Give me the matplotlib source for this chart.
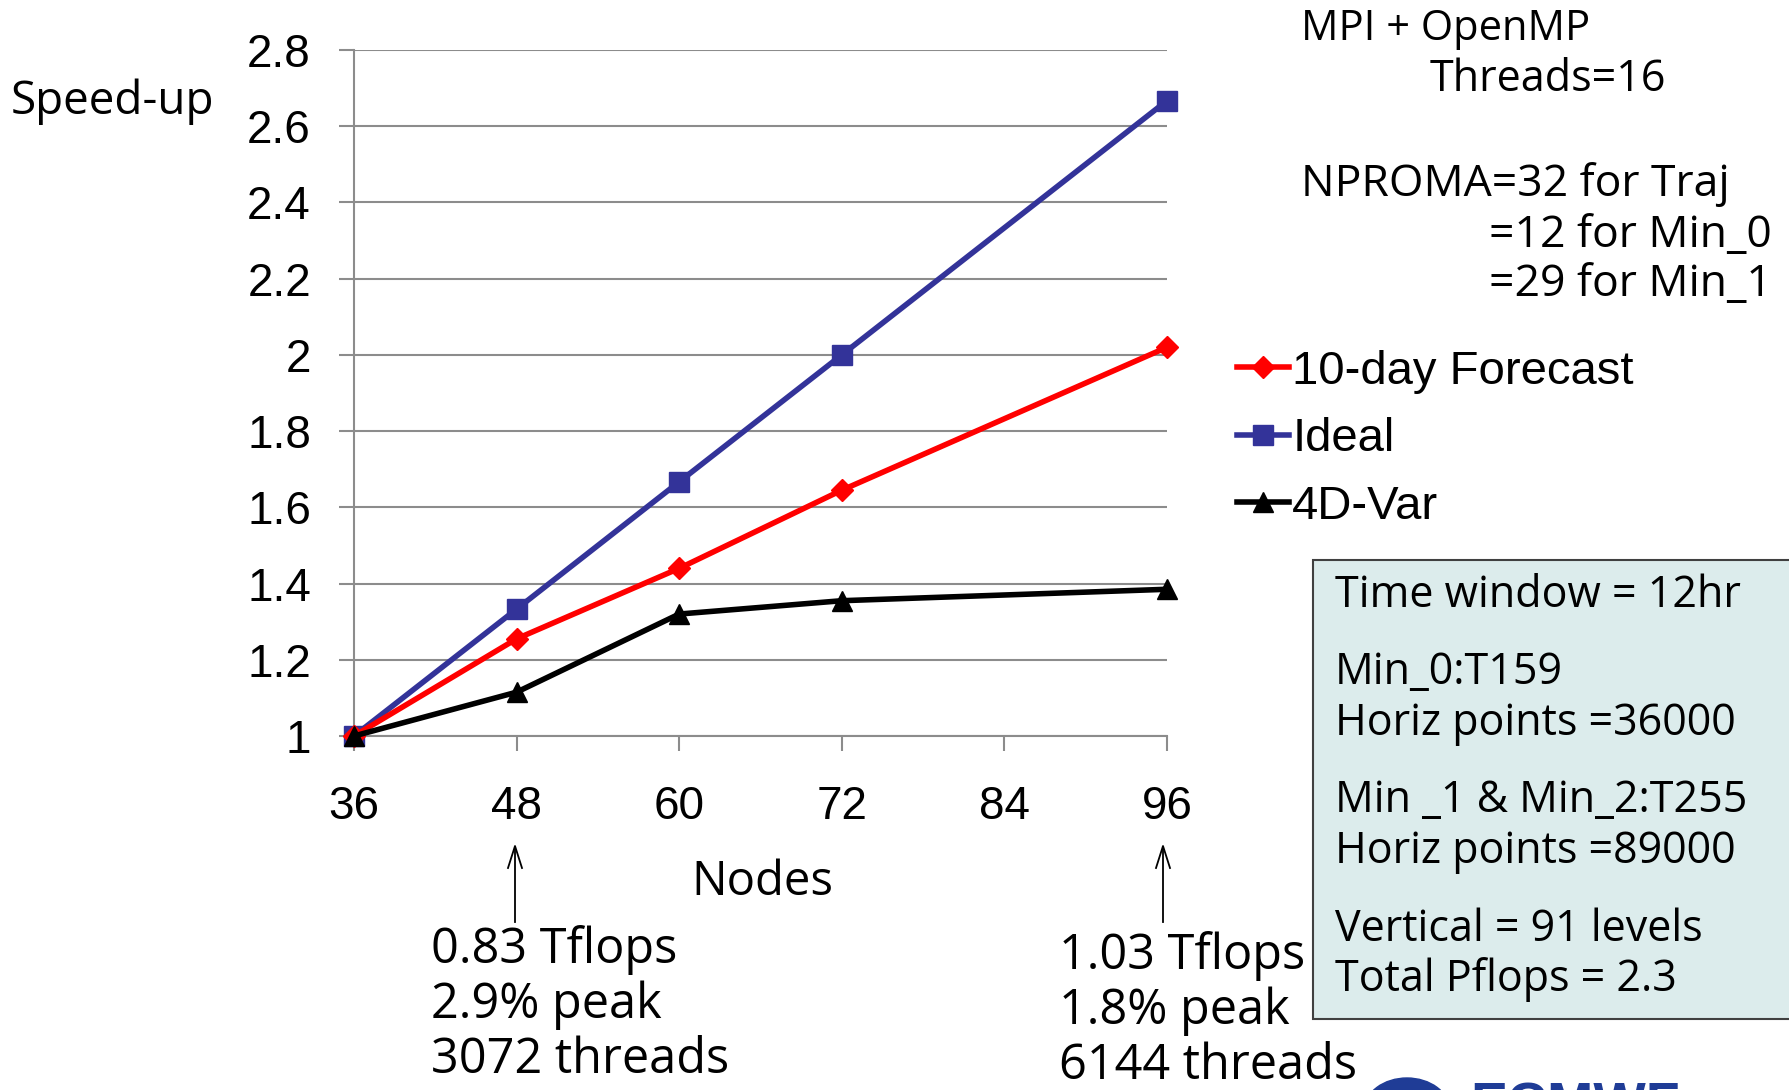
import matplotlib
matplotlib.use("Agg")
import matplotlib.pyplot as plt
from matplotlib.patches import Rectangle, Ellipse

# data
nodes = [36, 48, 60, 72, 96]
ideal = [1.0, 1.333, 1.667, 2.0, 2.667]
forecast = [1.0, 1.255, 1.44, 1.645, 2.02]
var4d = [1.0, 1.115, 1.32, 1.355, 1.385]
x_ticks = [36, 48, 60, 72, 84, 96]
y_ticks = [1, 1.2, 1.4, 1.6, 1.8, 2, 2.2, 2.4, 2.6, 2.8]
y_tick_labels = ["1", "1.2", "1.4", "1.6", "1.8", "2", "2.2", "2.4", "2.6", "2.8"]

arial = "Liberation Sans"
comic = "Open Sans"
W, H = 1789, 1090

fig = plt.figure(figsize=(17.89, 10.9), dpi=100)
ax = fig.add_axes([354 / W, 1 - 736 / H, (1167 - 354) / W, (736 - 50) / H])

ax.plot(nodes, ideal, color="#333399", lw=4, marker="s", ms=15, label="Ideal", zorder=3)
ax.plot(nodes, forecast, color="#ff0000", lw=4, marker="D", ms=11, label="10-day Forecast", zorder=4)
ax.plot(nodes, var4d, color="black", lw=4, marker="^", ms=15, label="4D-Var", zorder=5)

ax.set_xlim(36, 96)
ax.set_ylim(1, 2.8)
ax.set_xticks(x_ticks)
ax.set_xticklabels([str(v) for v in x_ticks], fontfamily=arial, fontsize=33)
ax.set_yticks(y_ticks)
ax.set_yticklabels(y_tick_labels, fontfamily=arial, fontsize=33)
ax.tick_params(axis="y", length=11, width=1.5, color="#8c8c8c", pad=20)
ax.tick_params(axis="x", length=11, width=1.5, color="#8c8c8c", pad=24)
ax.grid(axis="y", color="#8c8c8c", lw=1.5)
ax.set_axisbelow(True)
for s in ["top", "right"]:
    ax.spines[s].set_visible(False)
for s in ["left", "bottom"]:
    ax.spines[s].set_color("#8c8c8c")
    ax.spines[s].set_linewidth(1.5)
ax.patch.set_alpha(0)
for ln in ax.lines:
    ln.set_clip_on(False)

# legend in the right margin
handles, labels = ax.get_legend_handles_labels()
order = [1, 0, 2]
fig.legend([handles[i] for i in order], [labels[i] for i in order],
           loc="upper left", bbox_to_anchor=(1213 / W, 1 - 326 / H),
           frameon=False, prop={"family": arial, "size": 34},
           handlelength=1.1, handletextpad=0.08, labelspacing=0.5, borderpad=0)

# labels and notes
fig.text(11 / W, 1 - 102 / H, "Speed-up", family=comic, fontsize=33, va="center", ha="left")
fig.text(762 / W, 1 - 882 / H, "Nodes", family=comic, fontsize=34, va="center", ha="center")
fig.text(1301 / W, 1 - 29 / H, "MPI + OpenMP", family=comic, fontsize=30, va="center")
fig.text(1430 / W, 1 - 80 / H, "Threads=16", family=comic, fontsize=31, va="center")
fig.text(1301 / W, 1 - 185 / H, "NPROMA=32 for Traj", family=comic, fontsize=32, va="center")
fig.text(1489 / W, 1 - 236 / H, "=12 for Min_0", family=comic, fontsize=32, va="center")
fig.text(1489 / W, 1 - 285 / H, "=29 for Min_1", family=comic, fontsize=32, va="center")

# arrows pointing up at the 48 and 96 node ticks
for xf in [515, 1163]:
    fig.add_artist(plt.Line2D([xf / W, xf / W], [1 - 922 / H, 1 - 848 / H], color="black", lw=1.3))
    fig.add_artist(plt.Line2D([(xf - 7) / W, xf / W, (xf + 7) / W],
                              [1 - 868 / H, 1 - 846 / H, 1 - 868 / H], color="black", lw=1.3))

fig.text(431 / W, 1 - 925 / H, "0.83 Tflops\n2.9% peak\n3072 threads", family=comic,
         fontsize=35, va="top", ha="left", linespacing=1.15)
fig.text(1059 / W, 1 - 931 / H, "1.03 Tflops\n1.8% peak\n6144 threads", family=comic,
         fontsize=35, va="top", ha="left", linespacing=1.15)

# info box
fig.add_artist(Rectangle((1313 / W, 1 - 1019 / H), (W - 1313 + 5) / W, 459 / H,
                         transform=fig.transFigure, facecolor="#dcecec",
                         edgecolor="#404040", lw=1.5))
box_lines = [("Time window = 12hr", 596), ("Min_0:T159", 673), ("Horiz points =36000", 724),
             ("Min _1 & Min_2:T255", 801), ("Horiz points =89000", 852),
             ("Vertical = 91 levels", 930), ("Total Pflops = 2.3", 980)]
for txt, yp in box_lines:
    fig.text(1335 / W, 1 - yp / H, txt, family=comic, fontsize=31, va="center", ha="left")

# partial logo at the bottom edge
fig.add_artist(Ellipse((1407 / W, 1 - 1110 / H), 85 / W, 64 / H,
                       transform=fig.transFigure, color="#1f3c96"))
fig.text(1470 / W, 1 - 1082 / H, "ECMWF", family=arial, fontsize=40, fontweight="bold",
         color="#1f3c96", va="top", ha="left")

fig.savefig("out.png", dpi=100)
